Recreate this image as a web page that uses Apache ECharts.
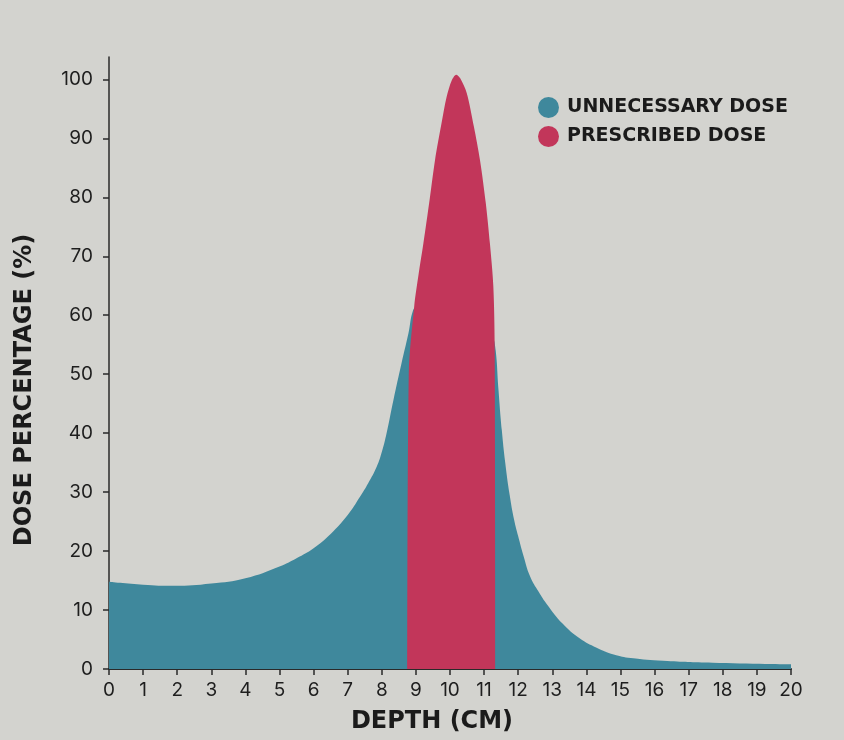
<!DOCTYPE html>
<html>
<head>
<meta charset="utf-8">
<script src="https://cdn.jsdelivr.net/npm/echarts@6/dist/echarts.min.js"></script>
<style>
  html, body { margin: 0; padding: 0; background: #d3d3cf; }
  #chart { width: 844px; height: 740px; }
</style>
</head>
<body>
<div id="chart"></div>
<script>
var seriesNames = ['UNNECESSARY DOSE', 'PRESCRIBED DOSE'];
var depthTicks = [0, 1, 2, 3, 4, 5, 6, 7, 8, 9, 10, 11, 12, 13, 14, 15, 16, 17, 18, 19, 20];
var doseTicks = [0, 10, 20, 30, 40, 50, 60, 70, 80, 90, 100];

// [depth cm, dose %] - the part under the red peak is hidden
var unnecessaryDose = [
    [0, 14.8], [1, 14.3], [1.9, 14.1], [3, 14.5], [4, 15.4], [5, 17.4],
    [5.5, 18.8], [6, 20.5], [6.5, 22.9], [7, 26.1], [7.36, 29.2], [7.6, 31.5],
    [7.85, 34.3], [8.0, 36.8], [8.14, 40], [8.34, 45.6], [8.58, 51.9],
    [8.78, 56.9], [8.92, 60.9], [9.05, 61.5], [9.4, 58], [11.0, 50],
    [11.26, 56], [11.34, 54], [11.42, 47.5], [11.52, 40.5], [11.62, 35],
    [11.75, 29.5], [11.88, 25.3], [12.0, 22.5], [12.15, 19.3], [12.35, 15.7],
    [12.6, 13.1], [12.84, 11.0], [13.3, 7.7], [13.8, 5.2], [14.3, 3.6],
    [14.8, 2.45], [15.3, 1.85], [16.25, 1.4], [17.7, 1.07], [20, 0.8]
];
var prescribedDose = [
    [8.75, 0], [8.79, 50], [8.95, 61.5], [9.08, 67], [9.22, 72.2],
    [9.4, 79.5], [9.56, 86.3], [9.75, 92.5], [9.9, 97], [10.05, 99.8],
    [10.18, 100.8], [10.3, 100.2], [10.49, 97.7], [10.7, 92], [10.88, 86.3],
    [11.05, 79], [11.17, 72.2], [11.27, 65], [11.31, 55], [11.33, 0]
];

var chart = echarts.init(document.getElementById('chart'));

chart.setOption({
    backgroundColor: '#d3d3cf',
    animation: false,
    grid: { left: 109, right: 53, top: 57, bottom: 71 },
    legend: {
        orient: 'vertical',
        left: 533,
        top: 92,
        icon: 'circle',
        itemWidth: 21,
        itemHeight: 21,
        itemGap: 8,
        textStyle: {
            fontFamily: 'DejaVu Sans', fontWeight: 'bold', fontSize: 19,
            color: '#1b1b1b', padding: [0, 0, 0, 3]
        },
        data: seriesNames
    },
    xAxis: {
        type: 'value',
        min: 0,
        max: 20,
        interval: 1,
        splitLine: { show: false },
        axisLine: { lineStyle: { color: '#2a2a2a', width: 2 } },
        axisTick: { length: 6, lineStyle: { color: '#2a2a2a', width: 1.5 } },
        axisLabel: {
            margin: 12,
            fontFamily: 'Inter',
            fontSize: 19,
            color: '#1e1e1e',
            customValues: depthTicks
        }
    },
    yAxis: {
        type: 'value',
        min: 0,
        max: 103.8,
        splitLine: { show: false },
        axisLine: { show: true, lineStyle: { color: '#2a2a2a', width: 1.5 } },
        axisTick: { show: true, length: 6, lineStyle: { color: '#2a2a2a', width: 1.5 }, customValues: doseTicks },
        axisLabel: {
            margin: 16,
            fontFamily: 'Inter',
            fontSize: 19,
            color: '#1e1e1e',
            customValues: doseTicks
        }
    },
    graphic: [
        {
            type: 'text',
            x: 25, y: 390,
            rotation: Math.PI / 2,
            style: {
                text: 'DOSE PERCENTAGE (%)',
                fontFamily: 'DejaVu Sans', fontWeight: 'bold', fontSize: 24,
                fill: '#1b1b1b', align: 'center', verticalAlign: 'middle'
            }
        },
        {
            type: 'text',
            x: 432, y: 722,
            style: {
                text: 'DEPTH (CM)',
                fontFamily: 'DejaVu Sans', fontWeight: 'bold', fontSize: 24,
                fill: '#1b1b1b', align: 'center', verticalAlign: 'middle'
            }
        }
    ],
    series: [
        {
            name: seriesNames[0],
            type: 'line',
            data: unnecessaryDose,
            smooth: 0.45,
            symbol: 'none',
            color: '#3f889c',
            lineStyle: { width: 0 },
            areaStyle: { color: '#3f889c', opacity: 1 },
            z: 2
        },
        {
            name: seriesNames[1],
            type: 'line',
            data: prescribedDose,
            smooth: 0.3,
            symbol: 'none',
            color: '#c2365a',
            lineStyle: { width: 0 },
            areaStyle: { color: '#c2365a', opacity: 1 },
            z: 3
        }
    ]
});
</script>
</body>
</html>
